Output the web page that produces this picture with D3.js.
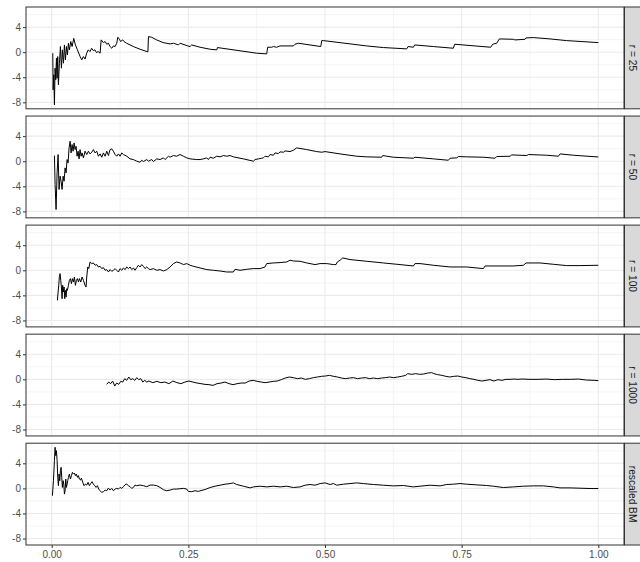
<!DOCTYPE html>
<html><head><meta charset="utf-8">
<script src="https://cdn.jsdelivr.net/npm/d3@7"></script>
<style>body{margin:0;background:#fff}svg{display:block}</style>
</head><body><svg id="c" width="640" height="562"></svg>
<script>
const facetLabels = ["r = 25", "r = 50", "r = 100", "r = 1000", "rescaled BM"];
const xTicks = [0, 0.25, 0.5, 0.75, 1];
const xMinor = [0.125, 0.375, 0.625, 0.875];
const yTicks = [-8, -4, 0, 4];
const yMinor = [-6, -2, 2, 6];

const r25 = [[0.002,-0.16],[0.0026,-6.0],[0.0038,-3.6],[0.005,-8.4],[0.0062,-2.55],[0.0074,-4.4],[0.0087,-0.96],[0.0099,-4.15],[0.011,-0.7],[0.0123,-5.2],[0.0141,-1.76],[0.016,0.9],[0.0178,-2.55],[0.0196,0.37],[0.0215,-1.76],[0.0233,1.16],[0.0251,-1.22],[0.027,0.9],[0.0288,-0.43],[0.0306,1.43],[0.0324,0.37],[0.0349,1.7],[0.0373,0.9],[0.0404,2.2],[0.0434,1.16],[0.0471,0.37],[0.052,-0.7],[0.055,-1.22],[0.058,-0.7],[0.061,-1.1],[0.064,-0.16],[0.067,0.37],[0.07,0.1],[0.073,0.63],[0.076,0.26],[0.079,0.37],[0.082,-0.06],[0.085,0.1],[0.0885,-0.16],[0.0905,1.96],[0.0946,1.53],[0.0977,1.7],[0.1007,1.27],[0.1038,1.43],[0.1068,0.9],[0.11,0.63],[0.113,1.0],[0.116,0.9],[0.119,1.43],[0.121,2.38],[0.124,2.06],[0.126,1.7],[0.13,1.96],[0.1324,1.7],[0.137,1.43],[0.1495,0.9],[0.1617,0.47],[0.176,0.05],[0.177,2.49],[0.183,2.38],[0.192,1.96],[0.204,1.53],[0.2166,1.32],[0.2227,1.43],[0.2318,1.16],[0.2349,1.43],[0.247,1.06],[0.253,0.9],[0.256,1.16],[0.2715,0.79],[0.29,0.47],[0.302,0.37],[0.3032,0.74],[0.375,-0.16],[0.3933,-0.27],[0.3951,0.79],[0.4025,0.79],[0.4055,0.9],[0.4116,0.79],[0.4177,1.0],[0.4421,1.0],[0.4451,1.27],[0.4512,1.43],[0.4923,0.9],[0.494,1.85],[0.497,1.85],[0.5763,1.0],[0.6068,0.74],[0.6495,0.53],[0.652,0.9],[0.6617,0.79],[0.6641,1.16],[0.6983,0.9],[0.7348,0.63],[0.7373,1.27],[0.8031,0.79],[0.8068,1.27],[0.8141,1.43],[0.819,2.12],[0.8446,2.06],[0.8476,1.96],[0.8659,2.06],[0.8677,2.28],[0.8812,2.33],[0.9117,2.12],[0.9417,1.85],[1.0,1.53]];

const r50 = [[0.005,0.91],[0.0062,-3.71],[0.008,-7.7],[0.0099,-1.85],[0.0117,1.07],[0.0135,-4.5],[0.0154,-2.38],[0.0172,-3.18],[0.019,-4.5],[0.0209,-2.38],[0.0227,-3.18],[0.0245,-1.06],[0.0263,-1.85],[0.0282,0.27],[0.03,-0.26],[0.0318,2.13],[0.0337,3.19],[0.0355,1.33],[0.0373,2.66],[0.0391,1.6],[0.041,2.92],[0.0428,1.86],[0.0446,2.39],[0.0465,0.8],[0.0483,1.6],[0.0501,0.38],[0.0519,1.86],[0.0538,0.8],[0.0556,1.33],[0.058,0.54],[0.0611,1.6],[0.0641,1.07],[0.0672,1.6],[0.0702,1.17],[0.0733,1.44],[0.0763,1.86],[0.0794,1.33],[0.0824,1.6],[0.0855,0.8],[0.0885,1.17],[0.0916,0.64],[0.0946,1.33],[0.0977,0.8],[0.1007,1.6],[0.1038,0.91],[0.1068,1.86],[0.1099,1.97],[0.1129,1.6],[0.116,1.07],[0.119,0.8],[0.1221,1.17],[0.1251,0.8],[0.1282,1.33],[0.1312,1.07],[0.1373,0.8],[0.1434,0.38],[0.1495,0.27],[0.1556,0.01],[0.1617,-0.15],[0.1647,0.16],[0.1678,-0.05],[0.1739,0.27],[0.177,0.01],[0.183,0.27],[0.1861,-0.05],[0.1922,0.38],[0.1983,0.27],[0.2044,0.54],[0.2074,0.27],[0.2135,0.8],[0.2165,0.64],[0.2226,0.91],[0.2287,0.8],[0.2348,1.07],[0.241,0.8],[0.2471,0.54],[0.2532,0.38],[0.2654,0.27],[0.2714,0.27],[0.2775,0.38],[0.2836,0.54],[0.2867,0.27],[0.2897,0.64],[0.2958,0.48],[0.3019,0.8],[0.308,0.7],[0.3141,0.91],[0.3202,0.8],[0.3263,0.91],[0.3324,0.7],[0.3507,0.38],[0.369,0.01],[0.3721,0.27],[0.3781,0.38],[0.3842,0.48],[0.3873,0.54],[0.3903,0.8],[0.3964,0.7],[0.3995,1.07],[0.4056,0.96],[0.4086,1.33],[0.4147,1.23],[0.4178,1.49],[0.4239,1.44],[0.4269,1.65],[0.4361,1.54],[0.4421,1.76],[0.4483,2.13],[0.4665,1.86],[0.4848,1.54],[0.494,1.44],[0.5001,1.54],[0.5275,1.17],[0.5581,0.8],[0.5763,0.7],[0.6037,0.64],[0.6056,0.91],[0.625,0.64],[0.6617,0.48],[0.6647,0.64],[0.6983,0.38],[0.7257,0.16],[0.7288,0.48],[0.741,0.54],[0.744,0.75],[0.7593,0.7],[0.7898,0.64],[0.8111,0.48],[0.8141,0.75],[0.8386,0.8],[0.8416,1.01],[0.8691,0.91],[0.8721,1.07],[0.9056,0.96],[0.927,0.8],[0.9301,1.17],[0.9544,0.96],[1.0,0.68]];

const r100 = [[0.0105,-4.8],[0.0117,-3.47],[0.0129,-2.4],[0.0141,-0.96],[0.0154,-0.53],[0.0166,-1.6],[0.0178,-2.67],[0.019,-4.53],[0.0202,-2.4],[0.0215,-3.47],[0.0227,-2.67],[0.0239,-4.53],[0.0251,-3.2],[0.0263,-4.27],[0.0276,-2.93],[0.0288,-3.2],[0.0306,-2.4],[0.0324,-1.6],[0.0343,-1.33],[0.0361,-2.13],[0.0379,-1.33],[0.0398,-1.87],[0.0416,-1.07],[0.0434,-2.4],[0.0452,-1.6],[0.0471,-1.33],[0.0489,-1.87],[0.0507,-1.33],[0.0532,-1.87],[0.0556,-1.07],[0.058,-1.6],[0.0611,-2.4],[0.0629,-2.67],[0.0641,-1.07],[0.066,0.53],[0.0678,0.27],[0.0702,1.33],[0.0733,1.07],[0.0763,1.17],[0.0794,0.8],[0.0824,0.91],[0.0855,0.53],[0.0885,0.64],[0.0916,0.27],[0.0946,0.43],[0.0977,0],[0.1007,0.11],[0.1038,-0.27],[0.1068,0.11],[0.1099,-0.16],[0.1129,0],[0.116,0.27],[0.119,0],[0.1221,-0.27],[0.1251,0.27],[0.1282,0],[0.1312,0.37],[0.1343,0.11],[0.1373,0.53],[0.1404,0.27],[0.1434,0.53],[0.1465,0.11],[0.1495,0.37],[0.1525,0],[0.1556,0.43],[0.1586,0.8],[0.1617,0.53],[0.1647,0.91],[0.1678,0.64],[0.1708,0.27],[0.1739,0.53],[0.177,0.27],[0.18,0.11],[0.1861,0.27],[0.1922,0],[0.1983,0.11],[0.2044,-0.11],[0.2105,0.11],[0.2166,0.53],[0.2227,1.07],[0.2288,1.33],[0.2349,1.17],[0.241,0.91],[0.2471,1.07],[0.2532,0.8],[0.2593,0.64],[0.2715,0.37],[0.2837,0.11],[0.2958,0],[0.308,-0.11],[0.3202,-0.27],[0.3324,-0.27],[0.3354,0.16],[0.3446,0],[0.3568,0.16],[0.369,0.27],[0.3812,0.27],[0.3903,0.53],[0.3933,1.07],[0.4056,1.17],[0.4178,1.23],[0.43,1.33],[0.4361,1.6],[0.4422,1.49],[0.4544,1.44],[0.4666,1.17],[0.4818,0.91],[0.491,1.07],[0.5032,1.07],[0.5153,0.91],[0.5202,0.91],[0.5226,1.33],[0.5275,1.6],[0.5324,1.97],[0.5458,1.71],[0.5763,1.44],[0.6068,1.17],[0.6373,0.91],[0.6617,0.69],[0.6647,1.07],[0.6739,1.07],[0.6983,0.8],[0.7288,0.53],[0.7592,0.53],[0.7897,0.27],[0.7928,0.69],[0.8202,0.69],[0.8446,0.69],[0.8629,0.8],[0.8678,1.17],[0.8933,1.17],[0.9177,0.96],[0.942,0.75],[0.9664,0.75],[1.0,0.8]];

const r1000 = [[0.1006,-0.8],[0.1043,-0.43],[0.1079,-0.69],[0.1116,-0.27],[0.1153,-1.07],[0.1189,-0.59],[0.1226,-0.8],[0.1263,-0.32],[0.13,-0.43],[0.1336,0.11],[0.1373,-0.16],[0.141,0.37],[0.1446,-0.05],[0.1483,0.11],[0.152,-0.16],[0.1557,0.27],[0.1593,-0.05],[0.163,0.11],[0.1667,-0.43],[0.1703,-0.16],[0.174,-0.43],[0.1777,-0.27],[0.185,-0.53],[0.1924,-0.32],[0.1997,-0.53],[0.207,-0.43],[0.2144,-0.69],[0.2217,-0.27],[0.2291,-0.53],[0.2364,-0.69],[0.2438,-0.43],[0.2511,-0.27],[0.2584,-0.43],[0.2658,-0.59],[0.2731,-0.69],[0.2805,-0.8],[0.2878,-0.85],[0.2952,-0.96],[0.3025,-0.69],[0.3098,-0.59],[0.3172,-0.43],[0.3245,-0.69],[0.3319,-0.85],[0.3392,-0.69],[0.3465,-0.59],[0.3539,-0.59],[0.3612,-0.27],[0.3686,-0.16],[0.3759,-0.32],[0.3833,-0.43],[0.3906,-0.53],[0.3979,-0.43],[0.4053,-0.32],[0.4126,-0.27],[0.42,-0.05],[0.4273,0.21],[0.4347,0.37],[0.442,0.27],[0.4493,0.11],[0.4567,0.21],[0.464,0],[0.4714,0.11],[0.4787,0.27],[0.486,0.37],[0.4934,0.48],[0.5007,0.53],[0.5081,0.64],[0.5154,0.48],[0.5228,0.37],[0.5301,0.21],[0.5374,0.11],[0.5448,0.21],[0.5521,0.27],[0.5595,0.11],[0.5668,0.21],[0.5742,0.27],[0.5815,0.11],[0.5888,0.21],[0.5962,0.11],[0.6035,0.21],[0.6109,0.27],[0.6182,0.37],[0.6256,0.27],[0.6329,0.37],[0.6402,0.48],[0.6476,0.64],[0.6512,0.91],[0.6586,0.8],[0.6659,0.91],[0.6733,0.8],[0.6806,0.85],[0.688,1.01],[0.6953,1.07],[0.699,0.91],[0.7063,0.75],[0.7137,0.64],[0.721,0.48],[0.7283,0.37],[0.7357,0.48],[0.743,0.53],[0.7504,0.37],[0.7577,0.27],[0.765,0.11],[0.7724,0],[0.7797,-0.16],[0.7871,-0.27],[0.7944,-0.16],[0.8018,-0.05],[0.8091,-0.27],[0.8164,-0.05],[0.8238,-0.16],[0.8311,0],[0.8385,0],[0.8458,0.05],[0.8532,0],[0.8605,0.05],[0.8752,0],[0.8899,0],[0.9046,0.05],[0.9192,-0.05],[0.9339,0],[0.9486,0],[0.9633,0.05],[0.978,-0.11],[0.9927,-0.16],[1.0,-0.21]];

const rescaledBM = [[0.0013,-1.17],[0.0032,1.23],[0.005,4.43],[0.0062,6.56],[0.0074,5.23],[0.0087,6.03],[0.0099,4.43],[0.0111,1.76],[0.0123,0.43],[0.0135,2.29],[0.0148,1.23],[0.016,2.83],[0.0172,3.36],[0.0184,1.76],[0.0196,0.16],[0.0209,1.23],[0.0221,0.69],[0.0233,-0.91],[0.0245,-0.37],[0.0257,1.49],[0.027,0.16],[0.0282,0.69],[0.0294,1.23],[0.0306,1.76],[0.0324,2.29],[0.0343,1.49],[0.0361,2.03],[0.0379,2.56],[0.0398,2.29],[0.0416,2.45],[0.0434,2.03],[0.0452,2.29],[0.0471,1.76],[0.0489,2.03],[0.0507,1.49],[0.0526,1.33],[0.0544,1.65],[0.0568,0.96],[0.0593,0.43],[0.0617,0.69],[0.0641,0.53],[0.0666,0.96],[0.069,0.43],[0.0715,0.8],[0.0739,1.07],[0.0763,0.69],[0.0788,0.43],[0.0812,0.16],[0.0837,0.43],[0.0861,-0.11],[0.0885,-0.37],[0.0916,-0.64],[0.0946,-0.53],[0.0977,-0.27],[0.1007,-0.37],[0.1038,0.05],[0.1068,-0.27],[0.1099,0],[0.1129,-0.37],[0.116,-0.11],[0.119,0],[0.1221,-0.11],[0.1251,0.16],[0.1282,0],[0.1312,0.27],[0.1343,0.59],[0.1373,0.69],[0.1404,0.43],[0.1434,0.27],[0.1465,0],[0.1495,0.16],[0.1525,0.53],[0.1556,0.43],[0.1617,0.53],[0.1678,0.43],[0.1739,0.27],[0.18,0.53],[0.1861,0.53],[0.1922,0.43],[0.1983,0.16],[0.2044,-0.21],[0.2105,-0.37],[0.2166,-0.27],[0.2227,-0.11],[0.2288,-0.11],[0.2349,-0.05],[0.241,0],[0.2471,-0.11],[0.2501,-0.48],[0.2562,-0.53],[0.2623,-0.37],[0.2684,-0.48],[0.2714,-0.39],[0.2806,-0.18],[0.2898,0.14],[0.2989,0.35],[0.3081,0.51],[0.3172,0.67],[0.3263,0.77],[0.3324,0.88],[0.3385,0.62],[0.3507,0.35],[0.363,0.08],[0.3691,0.24],[0.3813,0.35],[0.3935,0.24],[0.4056,0.35],[0.4178,0.24],[0.43,0.35],[0.4422,0.14],[0.4544,0.24],[0.4635,0.51],[0.4727,0.62],[0.4818,0.51],[0.491,0.77],[0.5001,0.88],[0.5093,0.62],[0.5153,0.77],[0.5214,0.51],[0.5336,0.67],[0.5458,0.77],[0.558,0.88],[0.5702,0.77],[0.5885,0.62],[0.6068,0.51],[0.6251,0.4],[0.6434,0.46],[0.6617,0.24],[0.6739,0.35],[0.6922,0.51],[0.7105,0.4],[0.7226,0.62],[0.7348,0.67],[0.747,0.77],[0.7592,0.67],[0.7775,0.56],[0.7958,0.46],[0.808,0.35],[0.8263,0.14],[0.8446,0.24],[0.8629,0.35],[0.8812,0.4],[0.8995,0.4],[0.9178,0.24],[0.93,0.08],[0.9483,0.08],[0.9666,0.03],[0.9849,-0.02],[1.0,-0.02]];

const seriesList = [r25, r50, r100, r1000, rescaledBM];

// layout
const left = 26, right = 624, top0 = 7, panelH = 101.8, gap = 7.25, stripW = 17;
const svg = d3.select("#c");
const x = d3.scaleLinear().domain([-0.047, 1.047]).range([left, right]);
const y = d3.scaleLinear().domain([-9.03, 7.21]).range([panelH, 0]);
const line = d3.line().x(d => x(d[0])).y(d => y(d[1]));
const font = "'Liberation Sans', Arial, Helvetica, sans-serif";

facetLabels.forEach((lab, i) => {
  const g = svg.append("g").attr("transform", `translate(0,${top0 + i * (panelH + gap)})`);
  g.append("rect").attr("x", left).attr("y", 0).attr("width", right - left).attr("height", panelH).attr("fill", "#fff");
  // minor grid
  g.selectAll(".mx").data(xMinor).enter().append("line")
    .attr("x1", d => x(d)).attr("x2", d => x(d)).attr("y1", 0).attr("y2", panelH)
    .attr("stroke", "#EBEBEB").attr("stroke-width", 0.55);
  g.selectAll(".my").data(yMinor).enter().append("line")
    .attr("y1", d => y(d)).attr("y2", d => y(d)).attr("x1", left).attr("x2", right)
    .attr("stroke", "#EBEBEB").attr("stroke-width", 0.55);
  // major grid
  g.selectAll(".Mx").data(xTicks).enter().append("line")
    .attr("x1", d => x(d)).attr("x2", d => x(d)).attr("y1", 0).attr("y2", panelH)
    .attr("stroke", "#EBEBEB").attr("stroke-width", 1.1);
  g.selectAll(".My").data(yTicks).enter().append("line")
    .attr("y1", d => y(d)).attr("y2", d => y(d)).attr("x1", left).attr("x2", right)
    .attr("stroke", "#EBEBEB").attr("stroke-width", 1.1);
  // series
  g.append("path").datum(seriesList[i]).attr("d", line)
    .attr("fill", "none").attr("stroke", "#000").attr("stroke-width", 1)
    .attr("stroke-linejoin", "round");
  // border
  g.append("rect").attr("x", left).attr("y", 0).attr("width", right - left).attr("height", panelH)
    .attr("fill", "none").attr("stroke", "#333333").attr("stroke-width", 1);
  // strip
  g.append("rect").attr("x", right + 0.5).attr("y", 0).attr("width", stripW).attr("height", panelH)
    .attr("fill", "#D9D9D9").attr("stroke", "#333333").attr("stroke-width", 1);
  g.append("text").attr("transform", `translate(${right + 8.2},${panelH / 2}) rotate(90)`)
    .attr("text-anchor", "middle").attr("dominant-baseline", "central")
    .attr("font-family", font).attr("font-size", 10.2).attr("fill", "#1A1A1A").text(lab);
  // y axis
  const ya = g.append("g").attr("transform", `translate(${left},0)`)
    .call(d3.axisLeft(y).tickValues(yTicks).tickSize(3).tickPadding(2).tickFormat(d => String(d)));
  ya.select(".domain").remove();
  ya.selectAll("line").attr("stroke", "#333333");
  ya.selectAll("text").attr("fill", "#4D4D4D").attr("font-family", font).attr("font-size", 10);
  if (i === facetLabels.length - 1) {
    const xa = g.append("g").attr("transform", `translate(0,${panelH})`)
      .call(d3.axisBottom(x).tickValues(xTicks).tickSize(3).tickPadding(2.5).tickFormat(d3.format(".2f")));
    xa.select(".domain").remove();
    xa.selectAll("line").attr("stroke", "#333333");
    xa.selectAll("text").attr("fill", "#4D4D4D").attr("font-family", font).attr("font-size", 10);
  }
});
</script></body></html>
